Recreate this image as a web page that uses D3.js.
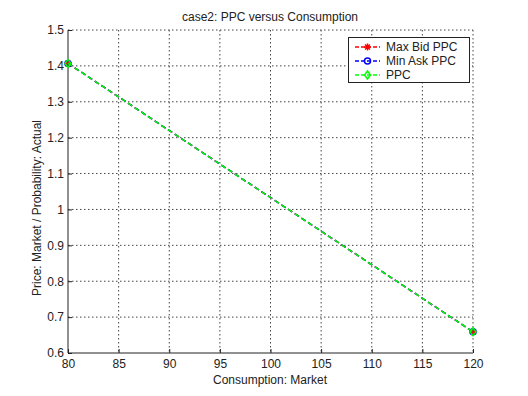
<!DOCTYPE html>
<html><head><meta charset="utf-8">
<script src="https://cdn.jsdelivr.net/npm/d3@7"></script>
<style>body{margin:0;background:#fff}text{font-family:"Liberation Sans",Arial,sans-serif}</style>
</head><body>
<svg id="c" width="528" height="396"></svg>
<script>
const consumption = [80, 120];
const maxBid = [1.407, 0.659];
const minAsk = [1.407, 0.659];
const ppc = [1.407, 0.659];
const xTicks = [80, 85, 90, 95, 100, 105, 110, 115, 120];
const yTicks = [0.6, 0.7, 0.8, 0.9, 1, 1.1, 1.2, 1.3, 1.4, 1.5];
const seriesNames = ["Max Bid PPC", "Min Ask PPC", "PPC"];
const seriesColors = ["#ff0000", "#0000ff", "#00ff00"];
const seriesMarkers = ["star", "circle", "diamond"];
const seriesValues = [maxBid, minAsk, ppc];

const svg = d3.select("#c");
const L = 68, R = 473, T = 30, B = 353;
const x = d3.scaleLinear().domain([80, 120]).range([L, R]);
const y = d3.scaleLinear().domain([0.6, 1.5]).range([B, T]);

// grid
const g = svg.append("g");
g.selectAll(".gx").data(xTicks.slice(1)).join("line")
  .attr("x1", d => x(d)).attr("x2", d => x(d)).attr("y1", T).attr("y2", B)
  .attr("stroke", "#444").attr("stroke-dasharray", "1.5,2.5");
g.selectAll(".gy").data(yTicks.slice(1)).join("line")
  .attr("y1", d => y(d)).attr("y2", d => y(d)).attr("x1", L).attr("x2", R)
  .attr("stroke", "#444").attr("stroke-dasharray", "1.5,2.5");

// axes
const xAxis = d3.axisBottom(x).tickValues(xTicks).tickSize(-4).tickPadding(6).tickFormat(d3.format("d"));
const yAxis = d3.axisLeft(y).tickValues(yTicks).tickSize(-4).tickPadding(4).tickFormat(d => String(d));
const ax = svg.append("g").attr("transform", `translate(0,${B})`).call(xAxis);
const ay = svg.append("g").attr("transform", `translate(${L},0)`).call(yAxis);
[ax, ay].forEach(a => {
  a.select(".domain").attr("stroke", "#222");
  a.selectAll(".tick line").attr("stroke", "#222");
  a.selectAll("text").attr("font-size", 12).attr("fill", "#222").attr("font-family", '"Liberation Sans",Arial,sans-serif');
});
ax.select(".domain").attr("d", `M${L},0H${R}`);
ay.select(".domain").attr("d", `M0,${B}V${T}`);
ax.selectAll("text").attr("dy", "0.71em");

// lines
const line = d3.line().x((d, i) => x(consumption[i])).y(d => y(d));
function marker(sel, type, color, cx, cy) {
  if (type === "star") {
    const s = 3.5;
    const p = sel.append("path").attr("transform", `translate(${cx},${cy})`)
      .attr("d", `M${-s},0H${s}M0,${-s}V${s}M${-s*0.7},${-s*0.7}L${s*0.7},${s*0.7}M${-s*0.7},${s*0.7}L${s*0.7},${-s*0.7}`)
      .attr("stroke", color).attr("stroke-width", 1.5).attr("fill", "none");
  } else if (type === "circle") {
    sel.append("circle").attr("cx", cx).attr("cy", cy).attr("r", 3)
      .attr("stroke", color).attr("stroke-width", 1.5).attr("fill", "none");
  } else {
    const s = 4;
    sel.append("path").attr("transform", `translate(${cx},${cy})`)
      .attr("d", `M0,${-s}L${s*0.75},0L0,${s}L${-s*0.75},0Z`)
      .attr("stroke", color).attr("stroke-width", 1.5).attr("fill", "none");
  }
}
seriesValues.forEach((vals, k) => {
  const gs = svg.append("g");
  gs.append("path").datum(vals).attr("d", line).attr("fill", "none")
    .attr("stroke", seriesColors[k]).attr("stroke-width", 1.5).attr("stroke-dasharray", "5,3");
  vals.forEach((v, i) => marker(gs, seriesMarkers[k], seriesColors[k], x(consumption[i]), y(v)));
});

// legend
const lg = svg.append("g");
lg.append("rect").attr("x", 348.5).attr("y", 37.5).attr("width", 121).attr("height", 45)
  .attr("fill", "#fff").attr("stroke", "#222");
seriesNames.forEach((n, k) => {
  const yy = 47 + k * 14;
  lg.append("line").attr("x1", 355).attr("x2", 380).attr("y1", yy).attr("y2", yy)
    .attr("stroke", seriesColors[k]).attr("stroke-width", 1.5).attr("stroke-dasharray", "4,2");
  marker(lg, seriesMarkers[k], seriesColors[k], 367.5, yy);
  lg.append("text").attr("x", 386).attr("y", yy).attr("dy", "0.35em")
    .attr("font-size", 12).attr("fill", "#222").text(n);
});

// labels
svg.append("text").attr("x", 270).attr("y", 21).attr("text-anchor", "middle")
  .attr("font-size", 12).attr("fill", "#222").text("case2: PPC versus Consumption");
svg.append("text").attr("x", 270).attr("y", 384).attr("text-anchor", "middle")
  .attr("font-size", 12).attr("fill", "#222").text("Consumption: Market");
svg.append("text").attr("transform", "translate(41,208) rotate(-90)").attr("text-anchor", "middle")
  .attr("font-size", 12).attr("fill", "#222").text("Price: Market / Probability: Actual");
</script>
</body></html>
